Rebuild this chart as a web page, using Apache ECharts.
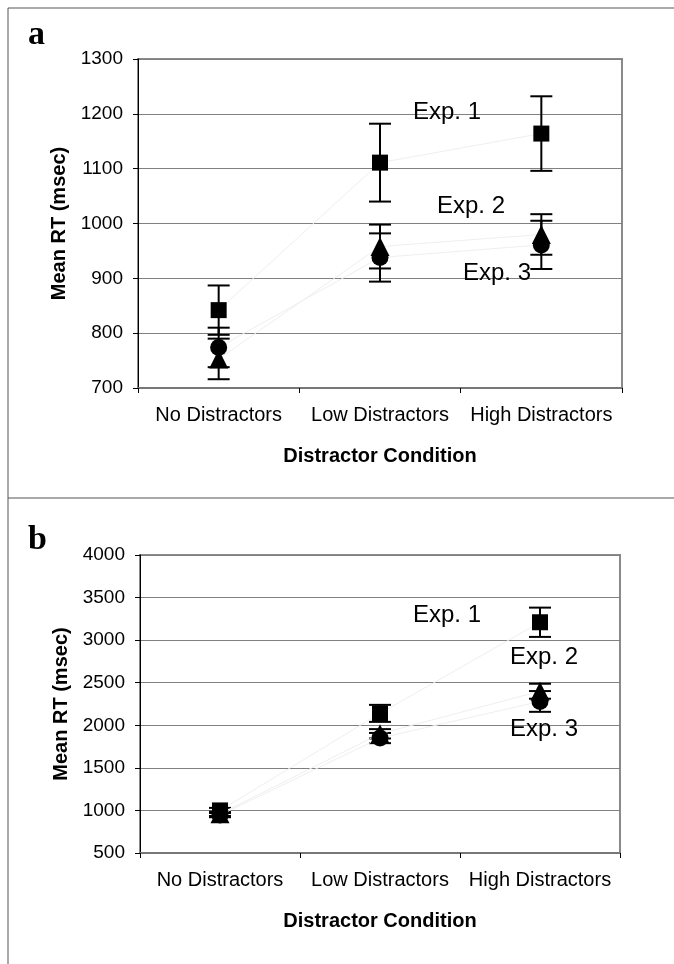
<!DOCTYPE html>
<html>
<head>
<meta charset="utf-8">
<script src="https://cdn.jsdelivr.net/npm/echarts@6/dist/echarts.min.js"></script>
<style>
  html, body { margin: 0; padding: 0; background: #fff; }
  #chart { width: 674px; height: 964px; }
</style>
</head>
<body>
<div id="chart"></div>
<script>
// categories
const categories = ["No Distractors", "Low Distractors", "High Distractors"];

// panel a
const exp1A = [842, 1111, 1164];
const exp1AErr = [45, 71, 68];
const exp2A = [753, 958, 980];
const exp2AErr = [37, 40, 37];
const exp3A = [774, 938, 961];
const exp3AErr = [36, 44, 44];

// panel b
const exp1B = [1000, 2140, 3210];
const exp1BErr = [30, 100, 172];
const exp2B = [960, 1900, 2400];
const exp2BErr = [25, 55, 88];
const exp3B = [945, 1850, 2280];
const exp3BErr = [25, 60, 122];

// axis ranges
const yAxisA = { min: 700, max: 1300, interval: 100 };
const yAxisB = { min: 500, max: 4000, interval: 500 };

const font = "'Liberation Sans', Arial, sans-serif";
const serif = "'Liberation Serif', 'Times New Roman', serif";

const chart = echarts.init(document.getElementById("chart"));

// error bar data: [category index, low, high]
function errData(means, errs) {
  return means.map((m, i) => [i, m - errs[i], m + errs[i]]);
}

function renderErr(params, api) {
  const x = api.value(0);
  const lo = api.coord([x, api.value(1)]);
  const hi = api.coord([x, api.value(2)]);
  const w = 11;
  const style = { stroke: "#000", lineWidth: 2 };
  return {
    type: "group",
    children: [
      { type: "line", shape: { x1: lo[0], y1: lo[1], x2: hi[0], y2: hi[1] }, style },
      { type: "line", shape: { x1: lo[0] - w, y1: lo[1], x2: lo[0] + w, y2: lo[1] }, style },
      { type: "line", shape: { x1: hi[0] - w, y1: hi[1], x2: hi[0] + w, y2: hi[1] }, style },
    ],
  };
}

function errSeries(idx, means, errs) {
  return {
    type: "custom",
    xAxisIndex: idx,
    yAxisIndex: idx,
    renderItem: renderErr,
    data: errData(means, errs),
    z: 2,
    silent: true,
  };
}

function pointSeries(idx, name, data, symbol, size) {
  return {
    name: name,
    type: "line",
    xAxisIndex: idx,
    yAxisIndex: idx,
    data: data,
    symbol: symbol,
    symbolSize: size,
    showAllSymbol: true,
    itemStyle: { color: "#000" },
    lineStyle: { color: "#efefef", width: 1 },
    z: 3,
    silent: true,
  };
}

function xAxisCfg(idx) {
  return {
    type: "category",
    gridIndex: idx,
    data: categories,
    boundaryGap: true,
    axisLine: { lineStyle: { color: "#777", width: 2 } },
    axisTick: { show: true, length: 5, lineStyle: { color: "#000", width: 1 } },
    axisLabel: { color: "#000", fontFamily: font, fontSize: 20, margin: 17, interval: 0, hideOverlap: false },
    name: "Distractor Condition",
    nameLocation: "middle",
    nameGap: 58,
    nameTextStyle: { color: "#000", fontFamily: font, fontSize: 20, fontWeight: "bold" },
    splitLine: { show: false },
  };
}

function yAxisCfg(idx, range) {
  return {
    type: "value",
    gridIndex: idx,
    min: range.min,
    max: range.max,
    interval: range.interval,
    axisLine: { show: true, lineStyle: { color: "#000", width: 1 } },
    axisTick: { show: true, length: 5, lineStyle: { color: "#000" } },
    axisLabel: { color: "#000", fontFamily: font, fontSize: 19, margin: 15, formatter: (v) => String(v) },
    splitLine: { show: true, lineStyle: { color: "#808080", width: 1 } },
    name: "Mean RT (msec)",
    nameLocation: "middle",
    nameRotate: 90,
    nameGap: 63,
    nameTextStyle: { color: "#000", fontFamily: font, fontSize: 20, fontWeight: "bold" },
  };
}

function label(text, x, y) {
  return {
    type: "text",
    x: x,
    y: y,
    style: { text: text, fill: "#000", font: "24px " + font, align: "center", verticalAlign: "middle" },
    z: 10,
  };
}

const frame = { stroke: "#555", lineWidth: 1 };

const options = {
  animation: false,
  backgroundColor: "#fff",
  grid: [
    { left: 138, top: 59, width: 484, height: 329, show: true, borderColor: "#8a8a8a", borderWidth: 2 },
    { left: 140, top: 555, width: 480, height: 298, show: true, borderColor: "#8a8a8a", borderWidth: 2 },
  ],
  xAxis: [xAxisCfg(0), xAxisCfg(1)],
  yAxis: [yAxisCfg(0, yAxisA), yAxisCfg(1, yAxisB)],
  series: [
    errSeries(0, exp1A, exp1AErr),
    errSeries(0, exp2A, exp2AErr),
    errSeries(0, exp3A, exp3AErr),
    pointSeries(0, "Exp. 1", exp1A, "rect", 16),
    pointSeries(0, "Exp. 2", exp2A, "triangle", 19),
    pointSeries(0, "Exp. 3", exp3A, "circle", 17),
    errSeries(1, exp1B, exp1BErr),
    errSeries(1, exp2B, exp2BErr),
    errSeries(1, exp3B, exp3BErr),
    pointSeries(1, "Exp. 2", exp2B, "triangle", 19),
    pointSeries(1, "Exp. 1", exp1B, "rect", 16),
    pointSeries(1, "Exp. 3", exp3B, "circle", 17),
  ],
  graphic: [
    // outer frame and panel divider
    { type: "line", shape: { x1: 8, y1: 8, x2: 8, y2: 964 }, style: frame },
    { type: "line", shape: { x1: 8, y1: 8, x2: 674, y2: 8 }, style: frame },
    { type: "line", shape: { x1: 8, y1: 498, x2: 674, y2: 498 }, style: frame },
    // panel letters
    { type: "text", x: 28, y: 52, style: { text: "a", fill: "#000", font: "bold 34px " + serif, verticalAlign: "bottom" } },
    { type: "text", x: 28, y: 557, style: { text: "b", fill: "#000", font: "bold 34px " + serif, verticalAlign: "bottom" } },
    // experiment labels
    label("Exp. 1", 447, 112),
    label("Exp. 2", 471, 206),
    label("Exp. 3", 497, 273),
    label("Exp. 1", 447, 615),
    label("Exp. 2", 544, 657),
    label("Exp. 3", 544, 729),
  ],
};

chart.setOption(options);
</script>
</body>
</html>
